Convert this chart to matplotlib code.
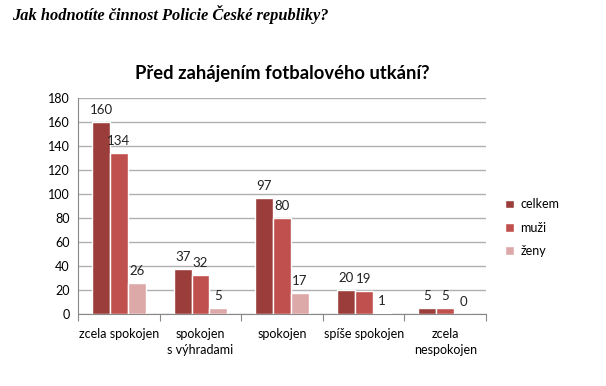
import matplotlib.pyplot as plt
import numpy as np

categories = ["zcela spokojen", "spokojen\ns výhradami", "spokojen", "spíše spokojen", "zcela\nnespokojen"]
celkem = [160, 37, 97, 20, 5]
muzi = [134, 32, 80, 19, 5]
zeny = [26, 5, 17, 1, 0]
series_names = ["celkem", "muži", "ženy"]
colors = ["#9B3D3B", "#C0504D", "#DDA8A8"]

plt.rcParams['font.family'] = ['Lato', 'DejaVu Sans']

fig = plt.figure(figsize=(6.06, 3.86), dpi=100)
ax = fig.add_axes([0.129, 0.187, 0.673, 0.559])

x = np.arange(len(categories))
w = 0.22
for i, (vals, name, c) in enumerate(zip([celkem, muzi, zeny], series_names, colors)):
    pos = x + (i - 1) * w
    ax.bar(pos, vals, w, color=c, edgecolor="white", linewidth=1, label=name, zorder=3)
    for p, v in zip(pos, vals):
        ax.text(p, v + 5, str(v), ha="center", va="bottom", fontsize=9.5, color="#222222")

ax.set_xlim(-0.5, len(categories) - 0.5)
ax.set_ylim(0, 180)
ax.set_yticks(range(0, 181, 20))
ax.yaxis.grid(True, color="#B0B0B0", linewidth=1, zorder=0)
ax.set_axisbelow(True)

ax.set_xticks(np.arange(len(categories) + 1) - 0.5)
ax.set_xticklabels([])
ax.set_xticks(x, minor=True)
ax.set_xticklabels(categories, minor=True, fontsize=9, linespacing=1.4)
ax.tick_params(axis="x", which="minor", length=0, pad=10)
ax.tick_params(axis="x", which="major", length=5, color="#888888", direction="out")
ax.tick_params(axis="y", length=0, labelsize=9, pad=6)

for s in ["top", "right"]:
    ax.spines[s].set_visible(False)
for s in ["left", "bottom"]:
    ax.spines[s].set_color("#888888")

ax.set_title("Před zahájením fotbalového utkání?", fontsize=13.2, fontweight="bold", pad=14)

ax.legend(loc="center left", bbox_to_anchor=(1.02, 0.40), frameon=False, fontsize=9,
          handlelength=0.7, handleheight=0.7, labelspacing=0.9, handletextpad=0.5)

fig.text(0.02, 0.962, "Jak hodnotíte činnost Policie České republiky?", fontsize=11.8,
         fontweight="bold", fontstyle="italic", family=["Liberation Serif", "DejaVu Serif"],
         va="center", ha="left")

fig.savefig("out.png", dpi=100)
